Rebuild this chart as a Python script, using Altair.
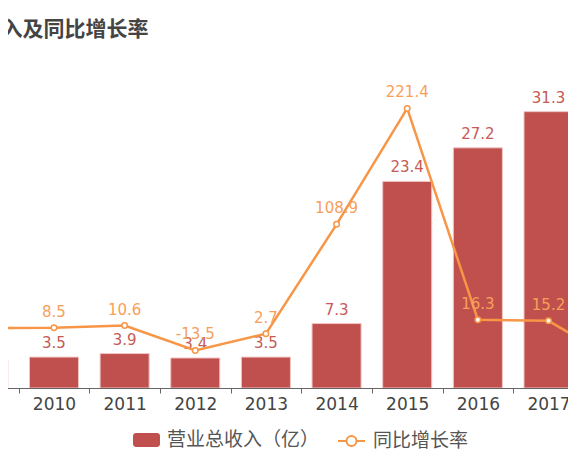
import pandas as pd
import altair as alt

# data
years = [2009, 2010, 2011, 2012, 2013, 2014, 2015, 2016, 2017, 2018]
revenue = [3.2, 3.5, 3.9, 3.4, 3.5, 7.3, 23.4, 27.2, 31.3, 23.5]
growth = [8.0, 8.5, 10.6, -13.5, 2.7, 108.9, 221.4, 16.3, 15.2, -24.8]

revenue_name = '营业总收入（亿）'
growth_name = '同比增长率'
title_text = '营业总收入及同比增长率'

bar_color = '#c0504d'
line_color = '#f79646'

df = pd.DataFrame({'year': years, 'revenue': revenue, 'growth': growth})
df['revenue_label'] = [f'{v:.1f}' for v in revenue]
df['growth_label'] = [f'{v:.1f}' for v in growth]

# the view is a crop of a wider chart: 2009 and 2018 fall partly outside
x_scale = alt.Scale(domain=[2009.236, 2017.389], nice=False, zero=False)
label_axis = alt.Axis(values=years, format='d', ticks=False, grid=False, orient='bottom',
                      labelFlush=False, labelOverlap=False)
tick_axis = alt.Axis(values=[y + 0.5 for y in years], labels=False, domain=False,
                     grid=False, tickSize=5, orient='bottom')

rect_path = ('M-0.78,-0.52 L0.78,-0.52 A0.22,0.22 0 0 1 1,-0.3 L1,0.3 '
             'A0.22,0.22 0 0 1 0.78,0.52 L-0.78,0.52 A0.22,0.22 0 0 1 -1,0.3 '
             'L-1,-0.3 A0.22,0.22 0 0 1 -0.78,-0.52 Z')
line_path = ('M-1,0 L-0.37,0 A0.37,0.37 0 1 1 0.37,0 A0.37,0.37 0 1 1 -0.37,0 '
             'M0.37,0 L1,0')

legend_font = dict(labelFont='Noto Sans CJK SC', labelFontSize=19, labelColor='#555',
                   labelOffset=7, padding=0, title=None, orient='none', symbolSize=729)

y_left = alt.Scale(domain=[0, 35])
y_right = alt.Scale(domain=[-50, 250])

base = alt.Chart(df)

bars = base.transform_calculate(
    x0='datum.year - 0.347', x1='datum.year + 0.347', series=f'"{revenue_name}"'
).mark_bar(clip=True, stroke='#f0c4c2', strokeWidth=1).encode(
    x=alt.X('x0:Q', scale=x_scale, axis=label_axis, title=None),
    x2='x1:Q',
    y=alt.Y('revenue:Q', scale=y_left, axis=None),
    y2=alt.datum(0),
    fill=alt.Fill('series:N', scale=alt.Scale(domain=[revenue_name], range=[bar_color]),
                  legend=alt.Legend(legendX=133, legendY=347.5, symbolType=rect_path,
                                    symbolStrokeWidth=0, **legend_font)),
)

bar_text = base.mark_text(clip=True, dy=-9, baseline='alphabetic', fontSize=15,
                          font='DejaVu Sans', color='#c65a57').encode(
    x=alt.X('year:Q', scale=x_scale, axis=None),
    y=alt.Y('revenue:Q', scale=y_left, axis=None),
    text='revenue_label:N',
)

line = base.transform_calculate(series2=f'"{growth_name}"').mark_line(
    clip=True, strokeWidth=2.5
).encode(
    x=alt.X('year:Q', scale=x_scale, axis=None),
    y=alt.Y('growth:Q', scale=y_right, axis=None),
    stroke=alt.Stroke('series2:N', scale=alt.Scale(domain=[growth_name], range=[line_color]),
                      legend=alt.Legend(legendX=337, legendY=347.5, symbolType=line_path,
                                        symbolStrokeWidth=2, symbolFillColor='white',
                                        **legend_font)),
)

points = base.mark_point(clip=True, filled=True, fill='white', stroke=line_color,
                         strokeWidth=1.5, size=30, opacity=1).encode(
    x=alt.X('year:Q', scale=x_scale, axis=tick_axis, title=None),
    y=alt.Y('growth:Q', scale=y_right, axis=None),
)

line_text = base.mark_text(clip=True, dy=-11, baseline='alphabetic', fontSize=15,
                           font='DejaVu Sans', color='#f7a05a').encode(
    x=alt.X('year:Q', scale=x_scale, axis=None),
    y=alt.Y('growth:Q', scale=y_right, axis=None),
    text='growth_label:N',
)

chart = alt.layer(bars, bar_text, line, points, line_text).resolve_scale(
    y='independent'
).resolve_axis(
    x='independent'
).properties(
    width=576, height=309,
    padding={'left': -8, 'top': 71, 'right': -8, 'bottom': 64},
    autosize=alt.AutoSizeParams(type='none'),
    title=alt.TitleParams(text=title_text, anchor='start', frame='group', dx=-82.5, offset=39,
                          font='Noto Sans CJK SC', fontSize=21, fontWeight='bold',
                          color='#444'),
).configure_view(strokeWidth=0).configure_axis(
    domainColor='#666', tickColor='#666', labelFont='DejaVu Sans',
    labelFontSize=17, labelColor='#444', labelPadding=8,
)

chart.save("out.html", embed_options={"renderer": "svg", "actions": False})
